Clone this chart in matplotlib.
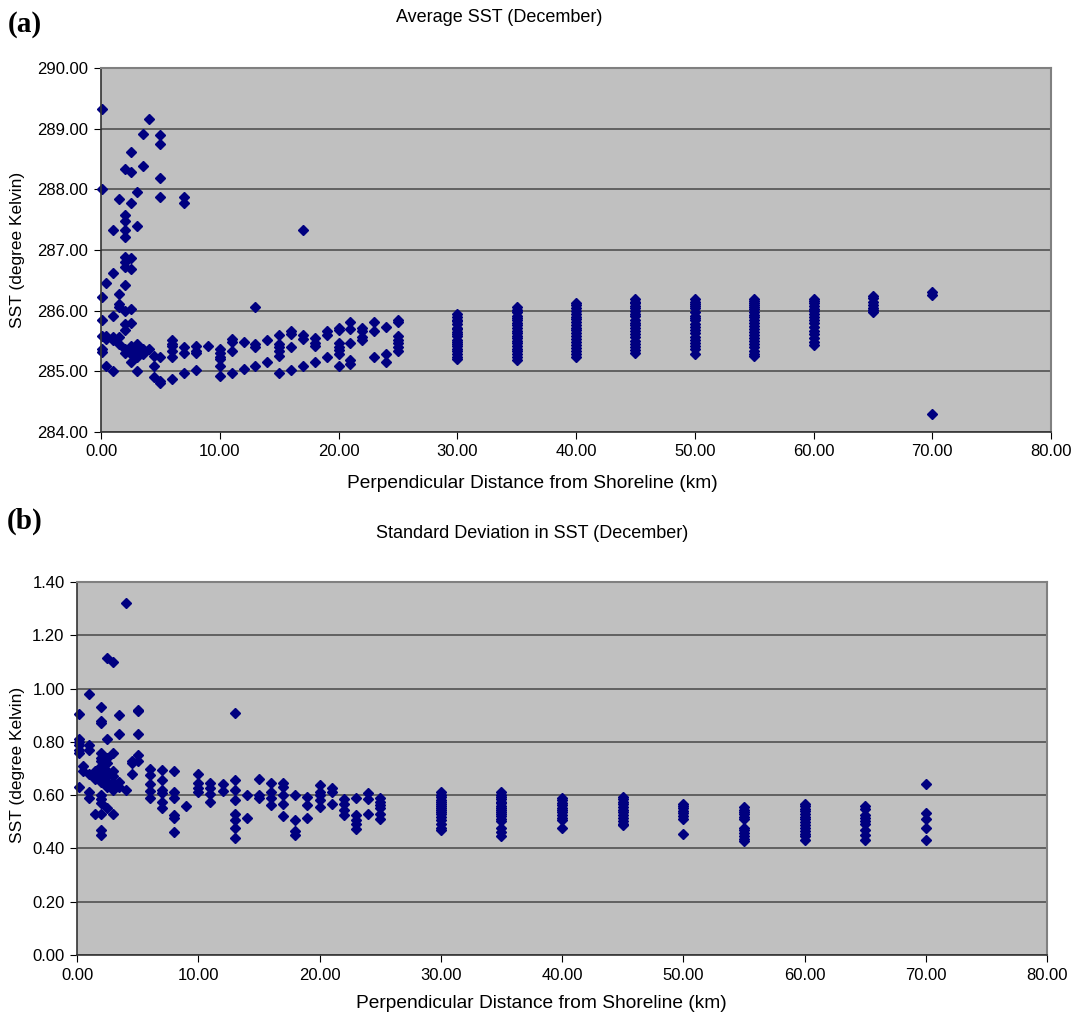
import matplotlib
matplotlib.use('Agg')
import matplotlib.pyplot as plt
from matplotlib.ticker import FormatStrFormatter

plt.rcParams['font.family'] = ['Liberation Sans', 'DejaVu Sans']

# (a) average SST, one list of values per distance (km)
avg_dist = [0.1, 0.4, 1.0, 1.5, 2.0, 2.5, 3.0, 3.5, 4.0, 4.5, 5.0,
            6, 7, 8, 9, 10, 11, 12, 13, 14, 15, 16, 17, 18, 19, 20,
            21, 22, 23, 24, 25, 30, 35, 40, 45, 50, 55, 60, 65, 70]
avg_sst = [
    [289.33, 288.00, 286.22, 285.84, 285.59, 285.37, 285.32],
    [286.46, 285.59, 285.53, 285.09],
    [287.33, 286.62, 285.92, 285.56, 285.52, 285.00],
    [287.84, 286.28, 286.11, 286.06, 285.56, 285.45],
    [288.33, 287.58, 287.47, 287.33, 287.22, 286.89, 286.80, 286.72,
     286.43, 286.00, 285.78, 285.68, 285.37, 285.31],
    [288.62, 288.29, 287.78, 286.86, 286.69, 286.03, 285.80, 285.42,
     285.34, 285.29, 285.15],
    [287.95, 287.39, 285.45, 285.34, 285.28, 285.23, 285.01],
    [288.92, 288.38, 285.37, 285.29],
    [289.16, 285.37],
    [285.26, 285.09, 284.90],
    [288.90, 288.74, 288.18, 287.88, 285.23, 284.84, 284.80],
    [285.51, 285.45, 285.42, 285.34, 285.23, 284.87],
    [287.88, 287.77, 285.40, 285.31, 284.98],
    [285.42, 285.34, 285.30, 285.02],
    [285.42],
    [285.37, 285.30, 285.24, 285.20, 285.09, 284.93],
    [285.53, 285.48, 285.34, 284.97],
    [285.48, 285.04],
    [286.06, 285.45, 285.40, 285.09],
    [285.51, 285.16],
    [285.60, 285.45, 285.40, 285.34, 285.25, 284.98],
    [285.67, 285.62, 285.40, 285.03],
    [287.33, 285.60, 285.53, 285.09],
    [285.55, 285.46, 285.41, 285.16],
    [285.67, 285.60, 285.23],
    [285.71, 285.68, 285.46, 285.40, 285.35, 285.29, 285.08],
    [285.81, 285.69, 285.46, 285.18, 285.12],
    [285.71, 285.66, 285.56, 285.52],
    [285.81, 285.67, 285.23],
    [285.73, 285.29, 285.16],
    [285.85, 285.81, 285.58, 285.52, 285.46, 285.40, 285.34],
    [285.94, 285.90, 285.85, 285.83, 285.78, 285.72, 285.70, 285.65, 285.61,
     285.58, 285.52, 285.49, 285.45, 285.41, 285.37, 285.33, 285.28, 285.24, 285.20],
    [286.06, 286.01, 285.97, 285.92, 285.88, 285.85, 285.80, 285.76, 285.71,
     285.67, 285.63, 285.58, 285.55, 285.50, 285.46, 285.41, 285.37, 285.33,
     285.28, 285.24, 285.19],
    [286.13, 286.09, 286.04, 285.99, 285.95, 285.90, 285.86, 285.82, 285.77,
     285.71, 285.68, 285.63, 285.58, 285.54, 285.49, 285.43, 285.38, 285.33,
     285.28, 285.24],
    [286.19, 286.15, 286.12, 286.08, 286.04, 285.99, 285.95, 285.91, 285.85,
     285.80, 285.76, 285.72, 285.66, 285.61, 285.56, 285.50, 285.45, 285.40,
     285.35, 285.31],
    [286.19, 286.15, 286.11, 286.07, 286.04, 285.98, 285.92, 285.88, 285.84,
     285.78, 285.73, 285.68, 285.63, 285.57, 285.52, 285.47, 285.42, 285.36, 285.29],
    [286.20, 286.16, 286.13, 286.10, 286.06, 286.02, 285.97, 285.93, 285.89,
     285.84, 285.80, 285.75, 285.70, 285.65, 285.60, 285.55, 285.50, 285.45,
     285.40, 285.34, 285.29, 285.25],
    [286.20, 286.16, 286.12, 286.08, 286.03, 285.99, 285.94, 285.89, 285.84,
     285.79, 285.73, 285.67, 285.61, 285.55, 285.49, 285.44],
    [286.25, 286.21, 286.15, 286.10, 286.05, 286.01, 285.97],
    [286.31, 286.26, 284.30],
]

# (b) standard deviation of SST
sd_dist = [0.15, 0.5, 1.0, 1.5, 2.0, 2.5, 3.0, 3.5, 4.0, 4.5, 5.0,
           6, 7, 8, 9, 10, 11, 12, 13, 14, 15, 16, 17, 18, 19, 20,
           21, 22, 23, 24, 25, 30, 35, 40, 45, 50, 55, 60, 65, 70]
sd_sst = [
    [0.906, 0.81, 0.80, 0.79, 0.77, 0.76, 0.63],
    [0.71, 0.69],
    [0.98, 0.79, 0.77, 0.68, 0.61, 0.59],
    [0.69, 0.66, 0.53],
    [0.93, 0.88, 0.87, 0.76, 0.74, 0.73, 0.71, 0.68, 0.66, 0.65, 0.60,
     0.585, 0.57, 0.53, 0.47, 0.45],
    [1.115, 0.81, 0.74, 0.72, 0.69, 0.67, 0.65, 0.63, 0.55],
    [1.10, 0.76, 0.69, 0.67, 0.65, 0.62, 0.53],
    [0.90, 0.83, 0.65, 0.63],
    [1.32, 0.62],
    [0.73, 0.72, 0.68],
    [0.92, 0.915, 0.83, 0.75, 0.73],
    [0.70, 0.676, 0.64, 0.614, 0.59],
    [0.694, 0.657, 0.62, 0.607, 0.576, 0.55],
    [0.69, 0.61, 0.59, 0.525, 0.516, 0.46],
    [0.56],
    [0.68, 0.645, 0.625, 0.612],
    [0.645, 0.625, 0.606, 0.575],
    [0.64, 0.616],
    [0.91, 0.656, 0.62, 0.58, 0.53, 0.506, 0.475, 0.44],
    [0.60, 0.516],
    [0.66, 0.60, 0.59],
    [0.644, 0.613, 0.59, 0.562],
    [0.644, 0.63, 0.60, 0.565, 0.52],
    [0.60, 0.505, 0.467, 0.45],
    [0.594, 0.562, 0.515],
    [0.638, 0.613, 0.60, 0.581, 0.556],
    [0.625, 0.613, 0.565],
    [0.584, 0.565, 0.543, 0.524],
    [0.59, 0.524, 0.505, 0.492, 0.473],
    [0.609, 0.587, 0.53],
    [0.59, 0.575, 0.562, 0.55, 0.53, 0.511],
    [0.612, 0.601, 0.594, 0.583, 0.576, 0.567, 0.561, 0.552, 0.544, 0.537,
     0.528, 0.519, 0.506, 0.493, 0.478, 0.468],
    [0.61, 0.602, 0.593, 0.585, 0.576, 0.569, 0.561, 0.553, 0.546, 0.538,
     0.531, 0.522, 0.512, 0.503, 0.478, 0.461, 0.447],
    [0.59, 0.581, 0.572, 0.563, 0.553, 0.545, 0.536, 0.527, 0.516, 0.508, 0.478],
    [0.594, 0.585, 0.576, 0.566, 0.556, 0.546, 0.536, 0.525, 0.515, 0.504,
     0.493, 0.487],
    [0.568, 0.559, 0.551, 0.541, 0.532, 0.522, 0.511, 0.456],
    [0.555, 0.546, 0.537, 0.528, 0.519, 0.511, 0.478, 0.468, 0.458, 0.447,
     0.437, 0.428],
    [0.568, 0.558, 0.549, 0.539, 0.529, 0.519, 0.509, 0.498, 0.488, 0.477,
     0.466, 0.456, 0.446, 0.433],
    [0.559, 0.549, 0.525, 0.515, 0.502, 0.49, 0.471, 0.452, 0.433],
    [0.642, 0.534, 0.509, 0.475, 0.43],
]

x_ticks = [0, 10, 20, 30, 40, 50, 60, 70, 80]
avg_ticks = [284, 285, 286, 287, 288, 289, 290]
sd_ticks = [0.0, 0.2, 0.4, 0.6, 0.8, 1.0, 1.2, 1.4]

W, H = 1076, 1019
fig = plt.figure(figsize=(W / 100, H / 100), dpi=100)


def px_axes(left, top, right, bottom):
    return fig.add_axes([left / W, 1 - bottom / H, (right - left) / W, (bottom - top) / H])


def style(ax, ylim, yticks):
    ax.set_facecolor('#c0c0c0')
    ax.set_xlim(0, 80)
    ax.set_ylim(*ylim)
    ax.set_xticks(x_ticks)
    ax.set_yticks(yticks)
    ax.xaxis.set_major_formatter(FormatStrFormatter('%.2f'))
    ax.yaxis.set_major_formatter(FormatStrFormatter('%.2f'))
    ax.yaxis.grid(True, color='#5a5a5a', linewidth=1.3)
    ax.set_axisbelow(True)
    ax.tick_params(direction='out', length=5, labelsize=12, colors='black', pad=4)
    for side in ['top', 'right']:
        ax.spines[side].set_color('#808080')
        ax.spines[side].set_linewidth(1.5)
    for side in ['left', 'bottom']:
        ax.spines[side].set_color('#333333')
        ax.spines[side].set_linewidth(1.2)


ax1 = px_axes(101, 68, 1051, 432)
for d, vals in zip(avg_dist, avg_sst):
    ax1.plot([d] * len(vals), vals, linestyle='none', marker='D',
             markersize=5, color='#000080', clip_on=False)
style(ax1, (284, 290), avg_ticks)

ax2 = px_axes(77, 582, 1047, 955)
for d, vals in zip(sd_dist, sd_sst):
    ax2.plot([d] * len(vals), vals, linestyle='none', marker='D',
             markersize=5, color='#000080', clip_on=False)
style(ax2, (0, 1.4), sd_ticks)

fig.text(499 / W, 1 - 17 / H, 'Average SST (December)', ha='center', va='center', fontsize=13)
fig.text(532 / W, 1 - 484 / H, 'Perpendicular Distance from Shoreline (km)',
         ha='center', va='center', fontsize=13.8)
fig.text(18 / W, 1 - 250 / H, 'SST (degree Kelvin)', ha='center', va='center',
         rotation=90, fontsize=12.5)

fig.text(532 / W, 1 - 533 / H, 'Standard Deviation in SST (December)', ha='center',
         va='center', fontsize=13)
fig.text(541 / W, 1 - 1003 / H, 'Perpendicular Distance from Shoreline (km)',
         ha='center', va='center', fontsize=13.8)
fig.text(18 / W, 1 - 765 / H, 'SST (degree Kelvin)', ha='center', va='center',
         rotation=90, fontsize=12.5)

fig.text(25 / W, 1 - 25 / H, '(a)', ha='center', va='center', fontsize=21,
         fontweight='bold', family='Liberation Serif')
fig.text(25 / W, 1 - 521 / H, '(b)', ha='center', va='center', fontsize=21,
         fontweight='bold', family='Liberation Serif')

fig.savefig('out.png', dpi=100)
